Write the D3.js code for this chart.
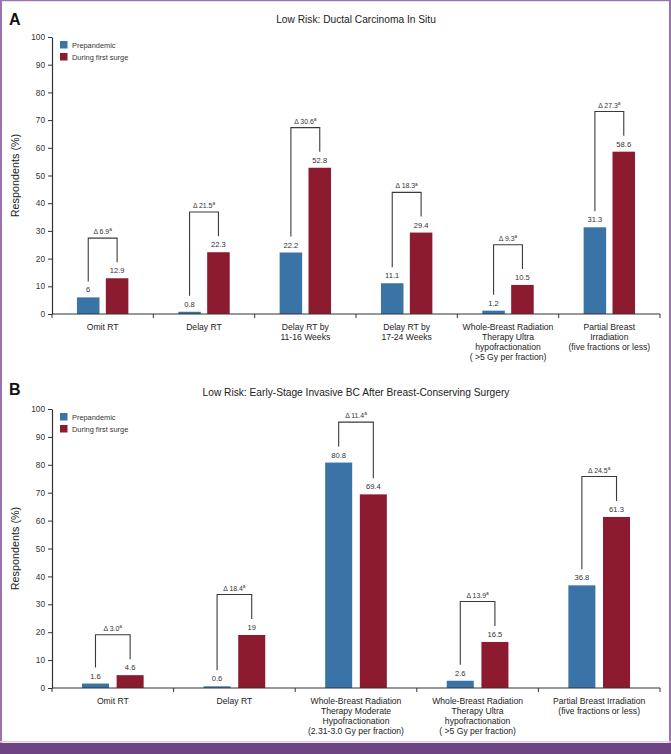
<!DOCTYPE html>
<html><head><meta charset="utf-8">
<script src="https://cdn.jsdelivr.net/npm/d3@7"></script>
<style>
html,body{margin:0;padding:0;background:#fff;}
svg{display:block;font-family:"Liberation Sans",Arial,Helvetica,sans-serif;}
</style></head>
<body>
<script>
// ---- Data ----
const seriesNames = ["Prepandemic", "During first surge"];
const seriesColors = ["#3a73a5", "#8c1b30"];
const yTicks = [0, 10, 20, 30, 40, 50, 60, 70, 80, 90, 100];

const titleA = "Low Risk: Ductal Carcinoma In Situ";
const categoriesA = [
  ["Omit RT"],
  ["Delay RT"],
  ["Delay RT by", "11-16 Weeks"],
  ["Delay RT by", "17-24 Weeks"],
  ["Whole-Breast Radiation", "Therapy Ultra", "hypofractionation", "( >5 Gy per fraction)"],
  ["Partial Breast", "Irradiation", "(five fractions or less)"]
];
const prepandemicA = [6, 0.8, 22.2, 11.1, 1.2, 31.3];
const surgeA = [12.9, 22.3, 52.8, 29.4, 10.5, 58.6];
const deltaA = ["6.9", "21.5", "30.6", "18.3", "9.3", "27.3"];

const titleB = "Low Risk: Early-Stage Invasive BC After Breast-Conserving Surgery";
const categoriesB = [
  ["Omit RT"],
  ["Delay RT"],
  ["Whole-Breast Radiation", "Therapy Moderate", "Hypofractionation", "(2.31-3.0 Gy per fraction)"],
  ["Whole-Breast Radiation", "Therapy Ultra", "hypofractionation", "( >5 Gy per fraction)"],
  ["Partial Breast Irradiation", "(five fractions or less)"]
];
const prepandemicB = [1.6, 0.6, 80.8, 2.6, 36.8];
const surgeB = [4.6, 19, 69.4, 16.5, 61.3];
const deltaB = ["3.0", "18.4", "11.4", "13.9", "24.5"];

// ---- Drawing ----
const W = 671, H = 754;
const svg = d3.select("body").append("svg").attr("width", W).attr("height", H);

svg.append("rect").attr("x", 0).attr("y", 0).attr("width", W).attr("height", H).attr("fill", "#fff");

function panel(opts) {
  const {letter, title, cats, a, b, deltas, top, bottom, letterY, titleY} = opts;
  const left = 52, right = 660;
  const g = svg.append("g");
  const y = d3.scaleLinear().domain([0, 100]).range([bottom, top]);
  const x0 = d3.scaleBand().domain(d3.range(cats.length)).range([left, right]).padding(0);
  const x1 = d3.scaleBand().domain([0, 1]).range([0, x0.bandwidth()]).paddingInner(0.22).paddingOuter(0.865);

  // letter & title
  g.append("text").attr("x", 9).attr("y", letterY).attr("font-size", 16).attr("font-weight", "bold")
    .attr("fill", "#111").text(letter);
  g.append("text").attr("x", (left + right) / 2).attr("y", titleY).attr("text-anchor", "middle")
    .attr("font-size", 10.2).attr("fill", "#222").text(title);

  // y axis
  const yAxis = d3.axisLeft(y).tickValues(yTicks).tickSize(4).tickPadding(3).tickSizeOuter(0);
  const ya = g.append("g").attr("transform", `translate(${left},0)`).call(yAxis);
  ya.select(".domain").attr("stroke", "#333").attr("stroke-width", 1.2);
  ya.selectAll(".tick line").attr("stroke", "#333");
  ya.selectAll(".tick text").attr("font-size", 8.3).attr("fill", "#333")
    .attr("font-family", '"Liberation Sans",Arial,sans-serif');

  // y label
  g.append("text").attr("transform", `translate(19,${(top + bottom) / 2}) rotate(-90)`)
    .attr("text-anchor", "middle").attr("font-size", 10.8).attr("fill", "#222").text("Respondents (%)");

  // bars
  const groups = g.selectAll(".grp").data(cats.map((c, i) => ({i, c, vals: [a[i], b[i]], d: deltas[i]})))
    .join("g").attr("transform", d => `translate(${x0(d.i)},0)`);

  groups.selectAll("rect").data(d => d.vals.map((v, k) => ({v, k}))).join("rect")
    .attr("x", d => x1(d.k)).attr("width", x1.bandwidth())
    .attr("y", d => y(d.v)).attr("height", d => y(0) - y(d.v))
    .attr("fill", d => seriesColors[d.k]);

  groups.selectAll("text.val").data(d => d.vals.map((v, k) => ({v, k}))).join("text")
    .attr("class", "val")
    .attr("x", d => x1(d.k) + x1.bandwidth() / 2).attr("y", d => y(d.v) - 5)
    .attr("text-anchor", "middle").attr("font-size", 7.6).attr("fill", "#333")
    .text(d => String(d.v));

  // brackets
  groups.each(function (d) {
    const gg = d3.select(this);
    const cx0 = x1(0) + x1.bandwidth() / 2, cx1 = x1(1) + x1.bandwidth() / 2;
    const topY = y(Math.max(d.vals[0], d.vals[1]) + 14.5);
    const e0 = y(d.vals[0]) - 16, e1 = y(d.vals[1]) - 16;
    gg.append("path").attr("d", `M${cx0},${e0}V${topY}H${cx1}V${e1}`)
      .attr("fill", "none").attr("stroke", "#3a3a3a").attr("stroke-width", 1.1);
    const t = gg.append("text").attr("x", (cx0 + cx1) / 2).attr("y", topY - 4)
      .attr("text-anchor", "middle").attr("font-size", 6.9).attr("fill", "#333");
    t.append("tspan").text("\u0394 " + d.d);
    t.append("tspan").attr("font-size", 4.8).attr("dy", -2.8).text("a");
  });

  // x axis
  g.append("line").attr("x1", left).attr("x2", right).attr("y1", y(0)).attr("y2", y(0))
    .attr("stroke", "#333").attr("stroke-width", 1.2);
  const bounds = d3.range(cats.length + 1).map(i => i < cats.length ? x0(i) : right);
  g.selectAll(".xt").data(bounds).join("line")
    .attr("x1", d => d).attr("x2", d => d).attr("y1", y(0)).attr("y2", y(0) + 4)
    .attr("stroke", "#333").attr("stroke-width", 1);

  // category labels
  groups.append("text").attr("text-anchor", "middle").attr("font-size", 8.6).attr("fill", "#222")
    .each(function (d) {
      const t = d3.select(this);
      d.c.forEach((line, li) => {
        t.append("tspan").attr("x", x0.bandwidth() / 2).attr("y", y(0) + 16 + li * 10).text(line);
      });
    });

  // legend
  const lg = g.append("g");
  seriesNames.forEach((s, k) => {
    lg.append("rect").attr("x", 60).attr("y", top + 4 + k * 12).attr("width", 7.5).attr("height", 7.5)
      .attr("fill", seriesColors[k]);
    lg.append("text").attr("x", 72).attr("y", top + 10.8 + k * 12).attr("font-size", 7.4).attr("fill", "#333").text(s);
  });
}

panel({letter: "A", title: titleA, cats: categoriesA, a: prepandemicA, b: surgeA, deltas: deltaA,
  top: 37, bottom: 314, letterY: 25, titleY: 23});
panel({letter: "B", title: titleB, cats: categoriesB, a: prepandemicB, b: surgeB, deltas: deltaB,
  top: 409, bottom: 688, letterY: 395, titleY: 396});

// frame
svg.append("rect").attr("x", 0).attr("y", 0).attr("width", 2).attr("height", H).attr("fill", "#9b72b0");
svg.append("rect").attr("x", 669).attr("y", 0).attr("width", 2).attr("height", H).attr("fill", "#9b72b0");
svg.append("rect").attr("x", 0).attr("y", 0).attr("width", W).attr("height", 1.2).attr("fill", "#9b72b0");
svg.append("rect").attr("x", 0).attr("y", 741).attr("width", W).attr("height", 1.5).attr("fill", "#d9cfe0");
svg.append("rect").attr("x", 0).attr("y", 743).attr("width", W).attr("height", 11).attr("fill", "#6e4482");
</script>
</body></html>
